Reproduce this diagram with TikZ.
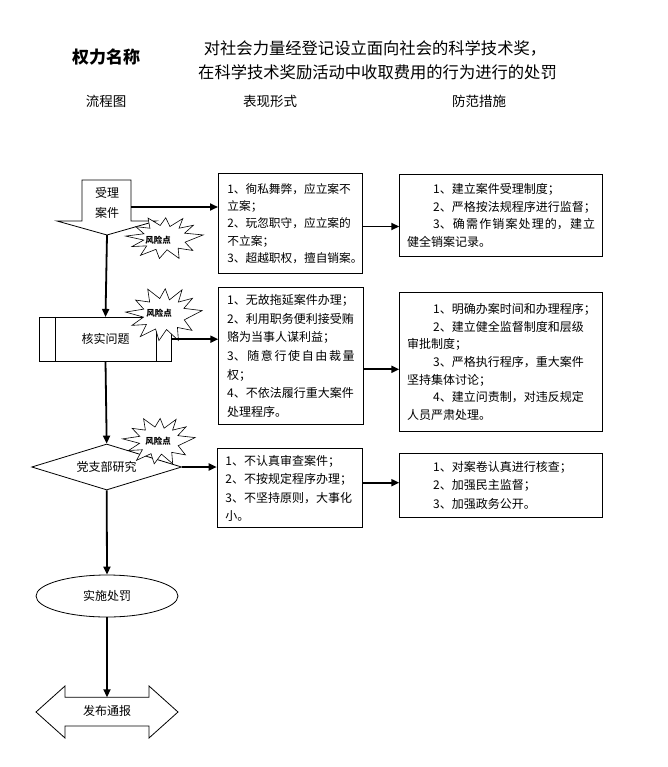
\documentclass[tikz,border=0pt]{standalone}
\usepackage{fontspec}
\setmainfont{Noto Sans CJK SC}
\usetikzlibrary{arrows.meta,shapes.geometric,calc}
\tikzset{
  ln/.style={line width=0.8pt},
  box/.style={draw, line width=0.8pt, align=left, inner xsep=0pt, inner ysep=0pt, anchor=north west},
  arr/.style={line width=1.8pt, -{Triangle[length=8pt,width=7pt]}},
  burstline/.style={draw, fill=white, line width=0.6pt},
  bursttext/.style={font=\fontsize{8.5}{9}\selectfont\bfseries, inner sep=0pt},
  lbl/.style={font=\fontsize{12}{14}\selectfont, inner sep=0pt},
}
% #1 name, #2 centre, #3 x radius, #4 y radius, #5 text position
\newcommand\riskstar[5]{%
  \begin{scope}[shift={#2}, x=#3, y=#4]
    \path[burstline] (8:1) -- (23:.56) -- (38:.94) -- (50:.58) -- (62:1) -- (75:.54)
      -- (88:.92) -- (101:.58) -- (115:1) -- (130:.58) -- (145:.9) -- (160:.56)
      -- (175:1) -- (190:.54) -- (205:.92) -- (218:.58) -- (232:1) -- (247:.56)
      -- (262:.94) -- (277:.54) -- (292:1) -- (307:.58) -- (322:.92) -- (340:.56) -- cycle;
  \end{scope}
  \node[bursttext] (#1) at #5 {风险点};}
\begin{document}
\begin{tikzpicture}[x=1pt,y=-1pt]
\fill[white] (0,0) rectangle (668,767);
\useasboundingbox (0,0) rectangle (668,767);

% titles
\node[font=\fontsize{17}{20}\selectfont\bfseries, inner sep=0pt] (tname) at (106,57) {权力名称};
\node[font=\fontsize{16.3}{20}\selectfont, inner sep=0pt] (t1) at (375,48) {对社会力量经登记设立面向社会的科学技术奖，};
\node[font=\fontsize{16.3}{20}\selectfont, inner sep=0pt] (t2) at (377.5,72) {在科学技术奖励活动中收取费用的行为进行的处罚};
\node[font=\fontsize{13.5}{16}\selectfont, inner sep=0pt] (h1) at (106,101) {流程图};
\node[font=\fontsize{13.5}{16}\selectfont, inner sep=0pt] (h2) at (270,101) {表现形式};
\node[font=\fontsize{13.5}{16}\selectfont, inner sep=0pt] (h3) at (479,101) {防范措施};

% node 1: accept case
\coordinate (n1tip) at (107,235);
\coordinate (n1r) at (131,207);
\draw[ln, fill=white] (82,180) -- (131,180) -- (131,221) -- (156,221) -- (n1tip) -- (57,221) -- (82,221) -- cycle;
\node[lbl, align=center, font=\fontsize{12}{20}\selectfont] (n1) at (107,203) {受理\\案件};

% node 2: predefined process
\node[draw, ln, minimum width=132.4pt, minimum height=43.7pt, inner sep=0pt, font=\fontsize{12}{14}\selectfont] (r2) at (105.5,339.2) {核实问题};
\draw[ln] ($(r2.north west)+(16.4,0)$) -- ($(r2.south west)+(16.4,0)$);
\draw[ln] ($(r2.north east)+(-16,0)$) -- ($(r2.south east)+(-16,0)$);

% node 3: diamond
\node[diamond, draw, ln, fill=white, minimum width=150pt, minimum height=46pt, inner sep=0pt, aspect=3.26, font=\fontsize{12}{14}\selectfont] (dia) at (106.7,467) {党支部研究};

% node 4: ellipse
\node[ellipse, draw, ln, minimum width=142pt, minimum height=42pt, inner sep=0pt, font=\fontsize{12}{14}\selectfont] (ell) at (107,596) {实施处罚};

% node 5: double arrow
\draw[ln] (36,712) -- (65,686) -- (65,697.3) -- (149,697.3) -- (149,686) -- (178,712) -- (149,738) -- (149,726) -- (65,726) -- (65,738) -- cycle;
\node[lbl] (fb) at (107,711) {发布通报};
\coordinate (fbtop) at (107,697.3);

% forms boxes
\node[box, minimum width=144pt, minimum height=100pt, text width=126pt, font=\fontsize{11.7}{17.3}\selectfont] (b1) at (218,173) {1、徇私舞弊，应立案不\\立案；\\2、玩忽职守，应立案的\\不立案；\\3、超越职权，擅自销案。};
\node[box, minimum width=144.4pt, minimum height=137pt, text width=127.6pt, font=\fontsize{12}{18.7}\selectfont] (b2) at (218.3,287) {1、无故拖延案件办理；\\2、利用职务便利接受贿\\赂为当事人谋利益；\\3、\hfill 随\hfill 意\hfill 行\hfill 使\hfill 自\hfill 由\hfill 裁\hfill 量\\权；\\4、不依法履行重大案件\\处理程序。};
\node[box, minimum width=145pt, minimum height=79pt, text width=128.4pt, font=\fontsize{12}{18.5}\selectfont] (b3) at (216.7,448.3) {1、不认真审查案件；\\2、不按规定程序办理；\\3、不坚持原则，大事化\\小。};

% measures boxes
\node[box, minimum width=203pt, minimum height=82pt, text width=188pt, font=\fontsize{12}{17.6}\selectfont] (m1) at (399.3,174) {\hspace*{26pt}1、建立案件受理制度；\\\hspace*{26pt}2、严格按法规程序进行监督；\\\hspace*{26pt}3、\hfill 确\hfill 需\hfill 作\hfill 销\hfill 案\hfill 处\hfill 理\hfill 的，\hfill 建\hfill 立\\健全销案记录。};
\node[box, minimum width=203pt, minimum height=139.5pt, text width=188pt, font=\fontsize{12}{17.6}\selectfont] (m2) at (399.3,291.7) {\hspace*{26pt}1、明确办案时间和办理程序；\\\hspace*{26pt}2、建立健全监督制度和层级\\审批制度；\\\hspace*{26pt}3、严格执行程序，重大案件\\坚持集体讨论；\\\hspace*{26pt}4、建立问责制，对违反规定\\人员严肃处理。};
\node[box, minimum width=203pt, minimum height=64pt, text width=188pt, font=\fontsize{12}{18.5}\selectfont] (m3) at (399.3,452.7) {\hspace*{26pt}1、对案卷认真进行核查；\\\hspace*{26pt}2、加强民主监督；\\\hspace*{26pt}3、加强政务公开。};

% risk points
\riskstar{s1}{(164.5,238)}{39pt}{22pt}{(158,240)}
\riskstar{s2}{(164,314.5)}{38.5pt}{28pt}{(159,313)}
\riskstar{s3}{(159,441)}{36.5pt}{24.5pt}{(158,441)}

% connectors
\coordinate (y1) at (0,226.5);
\coordinate (y2) at (0,369.3);
\coordinate (y3) at (0,482.7);
\draw[arr] (n1r) -- (n1r -| b1.west);
\draw[arr] (b1.east |- y1) -- (m1.west |- y1);
\draw[arr] (r2.east) -- (r2.east -| b2.west);
\draw[arr] (b2.east |- y2) -- (m2.west |- y2);
\draw[arr] (dia.east) -- (dia.east -| b3.west);
\draw[arr] (b3.east |- y3) -- (m3.west |- y3);
\draw[arr] (n1tip) -- (r2.north);
\draw[arr] (r2.south) -- (dia.north);
\draw[arr] (dia.south) -- (ell.north);
\draw[arr] (ell.south) -- (fbtop);
\end{tikzpicture}
\end{document}
